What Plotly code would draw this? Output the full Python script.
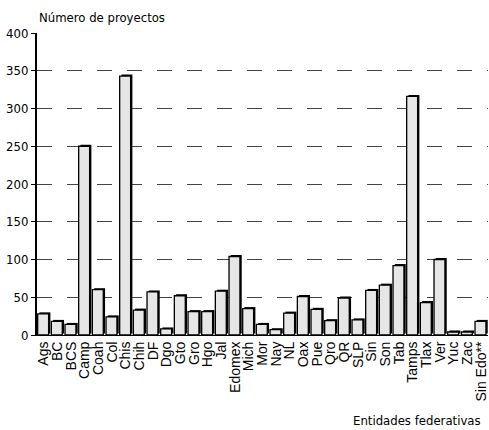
import plotly.graph_objects as go

categories = ["Ags", "BC", "BCS", "Camp", "Coah", "Col", "Chis", "Chih", "DF", "Dgo",
              "Gto", "Gro", "Hgo", "Jal", "Edomex", "Mich", "Mor", "Nay", "NL", "Oax",
              "Pue", "Qro", "QR", "SLP", "Sin", "Son", "Tab", "Tamps", "Tlax", "Ver",
              "Yuc", "Zac", "Sin Edo**"]
values = [28, 18, 14, 250, 60, 24, 343, 33, 57, 8,
          52, 31, 31, 58, 104, 35, 14, 7, 29, 51,
          34, 19, 49, 20, 59, 66, 92, 316, 43, 100,
          4, 4, 18]
y_ticks = [0, 50, 100, 150, 200, 250, 300, 350, 400]

narrow = "DejaVu Sans Condensed, Liberation Sans Narrow, Liberation Sans"

fig = go.Figure()
# shadow (3-D look) behind each bar
fig.add_trace(go.Bar(
    x=categories, y=values, base=2,
    marker=dict(color="black", line=dict(width=0)),
    width=0.8, offset=-0.32, hoverinfo="skip",
))
fig.add_trace(go.Bar(
    x=categories, y=values,
    marker=dict(color="#e6e6e6", line=dict(color="black", width=1.3)),
    width=0.8, offset=-0.45,
))

fig.update_layout(
    width=489, height=430,
    barmode="overlay",
    margin=dict(l=37, r=1, t=33, b=95),
    paper_bgcolor="white", plot_bgcolor="white",
    showlegend=False,
    font=dict(family="Liberation Sans, Arial", color="black", size=13),
    xaxis=dict(
        tickangle=-90, showgrid=False, showline=True, linecolor="black", linewidth=1,
        ticks="", tickfont=dict(size=14), range=[-0.5, len(categories) - 0.5],
        tickmode="array", tickvals=categories, ticktext=categories,
    ),
    yaxis=dict(
        range=[0, 400], tickvals=y_ticks, showgrid=True, gridcolor="#444444",
        griddash="longdash", gridwidth=1, showline=True, linecolor="black", linewidth=2,
        ticks="outside", ticklen=4, tickcolor="black",
        tickfont=dict(family=narrow, size=13),
        zeroline=False,
    ),
    annotations=[
        dict(text="Número de proyectos", xref="paper", yref="paper", x=0, y=1.02,
             xanchor="left", yanchor="bottom", showarrow=False,
             font=dict(family=narrow, size=13)),
        dict(text="Entidades federativas", xref="paper", yref="paper", x=0.99, y=-0.283,
             xanchor="right", yanchor="middle", showarrow=False,
             font=dict(family=narrow, size=13)),
    ],
)

fig.write_html("out.html", config={"displayModeBar": False},
               post_script="document.body.style.margin='0';document.body.style.overflow='hidden';")
